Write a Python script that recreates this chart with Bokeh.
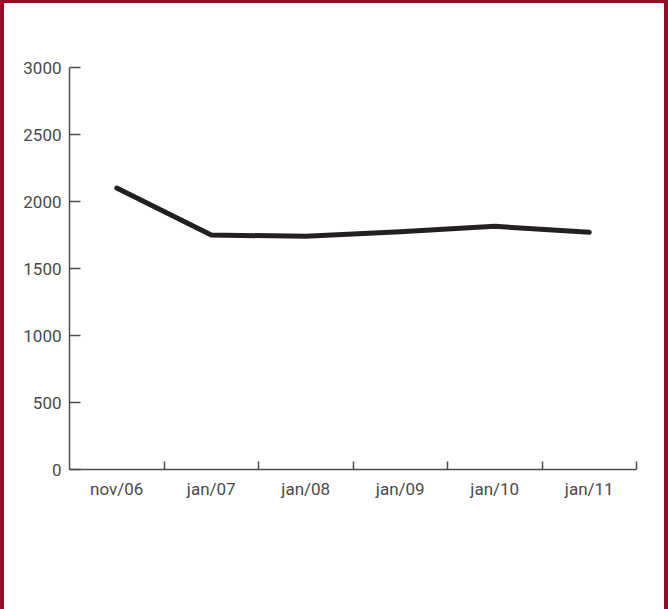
import numpy as np
from bokeh.plotting import figure
from bokeh.models import Range1d, FixedTicker, ColumnDataSource
from bokeh.embed import file_html
from bokeh.resources import INLINE

categories = ["nov/06", "jan/07", "jan/08", "jan/09", "jan/10", "jan/11"]
values = [2100, 1750, 1740, 1775, 1815, 1770]
y_ticks = [0, 500, 1000, 1500, 2000, 2500, 3000]

n = len(categories)
xs = np.arange(n) + 0.5
src = ColumnDataSource(data=dict(x=xs, y=values))

red = "#9b0a27"
p = figure(width=668, height=609, output_backend="svg", toolbar_location=None,
           x_range=Range1d(0, n), y_range=Range1d(0, 3000),
           min_border_left=69, min_border_right=32, min_border_top=67, min_border_bottom=140,
           background_fill_color=None, border_fill_color=None,
           styles={"position": "absolute", "left": "0px", "top": "0px",
                   "background-color": "white",
                   "box-shadow": f"inset 4px 3px 0 0 {red}, inset -4px 0 0 0 {red}"})
p.outline_line_color = None
p.grid.visible = False

p.line("x", "y", source=src, line_color="#231f20", line_width=5,
       line_join="round", line_cap="round")

axis_color = "#4d4d4d"
label_color = "#4a4a4a"
font = "Roboto"

xa = p.xaxis[0]
xa.ticker = FixedTicker(ticks=list(xs), minor_ticks=list(range(1, n + 1)))
xa.major_label_overrides = {float(x): c for x, c in zip(xs, categories)}
xa.major_tick_in = 0
xa.major_tick_out = 0
xa.minor_tick_in = 8
xa.minor_tick_out = 0
xa.minor_tick_line_color = axis_color
xa.minor_tick_line_width = 1.5
xa.axis_line_color = axis_color
xa.axis_line_width = 1.5
xa.major_label_text_font = font
xa.major_label_text_font_size = "17px"
xa.major_label_text_color = label_color
xa.major_label_standoff = 9

ya = p.yaxis[0]
ya.ticker = FixedTicker(ticks=y_ticks)
ya.major_tick_in = 11
ya.major_tick_out = 0
ya.minor_tick_line_color = None
ya.major_tick_line_color = axis_color
ya.major_tick_line_width = 1.5
ya.axis_line_color = axis_color
ya.axis_line_width = 1.5
ya.major_label_text_font = font
ya.major_label_text_font_size = "17px"
ya.major_label_text_color = label_color
ya.major_label_standoff = 8

open("out.html", "w").write(file_html(p, INLINE))
